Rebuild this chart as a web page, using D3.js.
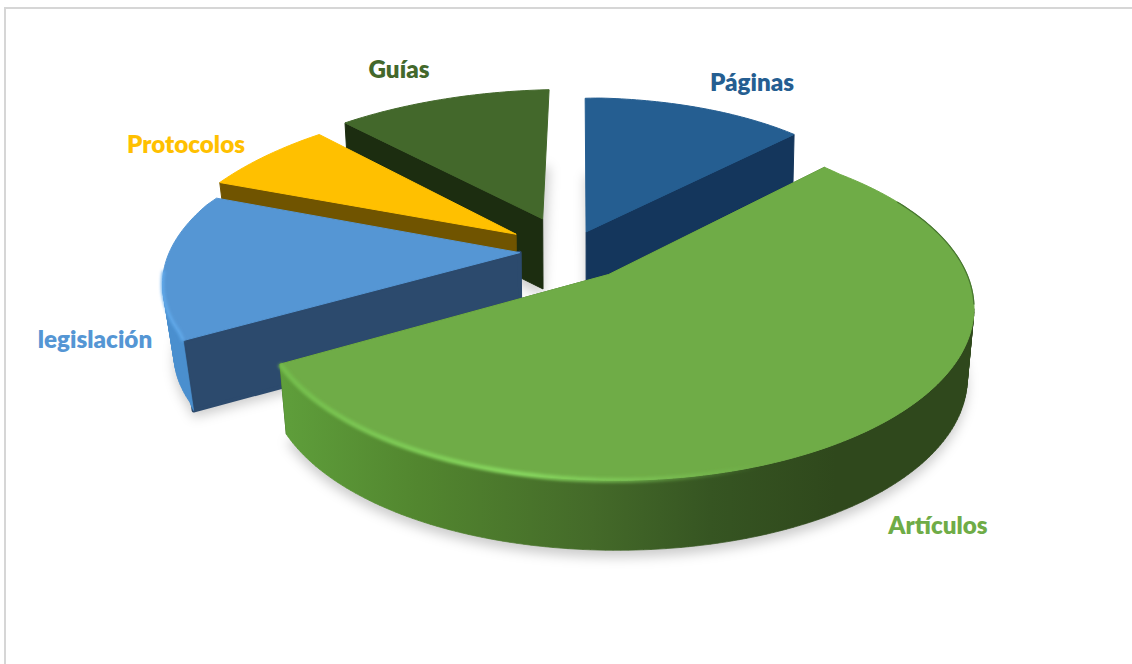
<!DOCTYPE html>
<html>
<head>
<meta charset="utf-8">
<script src="https://cdn.jsdelivr.net/npm/d3@7"></script>
<style>
  html, body { margin: 0; background: #fff; }
  svg { display: block; }
  text { font-family: Lato, "Open Sans", sans-serif; font-weight: 800; font-size: 24.2px; }
</style>
</head>
<body>
<div id="chart"></div>
<script>
// exploded 3D pie
const categories = ['Páginas', 'Artículos', 'legislación', 'Protocolos', 'Guías'];
const values = [12.4, 54.6, 14.2, 7.1, 11.7];
const explosion = [0.133, 0.19, 0.147, 0.198, 0.232];
const startBoost = [0, 0, 0.035, 0, 0];
const topColors = ['#255e91', '#6fac47', '#5596d4', '#ffc000', '#43682b'];
const wallColors = ['#14365c', '#43682b', '#2c4a6d', '#705400', '#1c2d10'];
const rimColors = ['#14365c', 'url(#greenWall)', '#4b8fcf', '#705400', '#1c2d10'];
const cornerRound = [1, 1, 4, 1, 1];
const labelPos = [[752, 83], [938, 526], [95, 340], [186, 145], [399, 70]];

const W = 1132, H = 664;
const rad = Math.PI / 180;

const svg = d3.select('#chart').append('svg').attr('width', W).attr('height', H).attr('viewBox', `0 0 ${W} ${H}`);

// frame (only top and left edges survive in the original)
svg.append('path').attr('d', `M5,${H}V8H${W}`).attr('fill', 'none').attr('stroke', '#d6d6d6').attr('stroke-width', 2);

const defs = svg.append('defs');
defs.append('filter').attr('id', 'soft').attr('filterUnits', 'userSpaceOnUse')
  .attr('x', 0).attr('y', 0).attr('width', W).attr('height', H)
  .append('feGaussianBlur').attr('stdDeviation', 6);
defs.append('filter').attr('id', 'soft2').attr('filterUnits', 'userSpaceOnUse')
  .attr('x', 0).attr('y', 0).attr('width', W).attr('height', H)
  .append('feGaussianBlur').attr('stdDeviation', 1.8);

const wallGrad = defs.append('linearGradient').attr('id', 'greenWall').attr('gradientUnits', 'userSpaceOnUse')
  .attr('x1', 279).attr('x2', 975).attr('y1', 0).attr('y2', 0);
[[0, '#5f9f3b'], [0.2, '#52862f'], [0.45, '#446a29'], [0.62, '#365522'], [0.8, '#2f481c'], [1, '#2f481c']]
  .forEach(s => wallGrad.append('stop').attr('offset', s[0]).attr('stop-color', s[1]));
const lightGrad = defs.append('linearGradient').attr('id', 'greenLight').attr('gradientUnits', 'userSpaceOnUse')
  .attr('x1', 279).attr('x2', 760).attr('y1', 0).attr('y2', 0);
[[0, '#74bd4c', 1], [0.5, '#86d65e', 1], [1, '#86d65e', 0]]
  .forEach(s => lightGrad.append('stop').attr('offset', s[0]).attr('stop-color', s[1]).attr('stop-opacity', s[2]));

// the disc as seen by the camera: an ellipse, with the true centre pushed back from its middle
const ell = {x: 622, y: 307, rx: 356, ry: 171};
const q = [(613 - ell.x) / ell.rx, (ell.y - 273) / ell.ry];
const qq = q[0] * q[0] + q[1] * q[1];
const hub = [-0.13, 0.14];
const depth = 70, converge = 5.4e-5;

function project(w) {
  const dot = q[0] * w[0] + q[1] * w[1];
  const den = 1 + dot;
  const s = Math.sqrt(1 - qq);
  const par = [q[0] * dot / qq, q[1] * dot / qq];
  const u = [0, 1].map(i => (q[i] + par[i] + s * (w[i] - par[i])) / den);
  return [ell.x + ell.rx * u[0], ell.y - ell.ry * u[1]];
}
// underside: straight down, pulled in a bit toward the middle
function drop(p) {
  const dx = p[0] - ell.x;
  return [p[0] - dx * Math.abs(dx) * converge, p[1] + depth];
}
// far side of the disc reads a little larger than the plain projection gives
function rimRadius(a) {
  return 1 + 0.09 * Math.max(0, Math.min(1, 1.5 * Math.cos(a - 325 * rad) - 0.2));
}

const pie = d3.pie().sort(null).startAngle(-1.2 * rad).endAngle(358.8 * rad);
const line = d3.line();

const slices = pie(values).map((d, i) => {
  const mid = (d.startAngle + d.endAngle) / 2;
  const span = d.endAngle - d.startAngle;
  const apexW = [hub[0] + explosion[i] * Math.sin(mid), hub[1] + explosion[i] * Math.cos(mid)];
  const rimAt = a => {
    const r = rimRadius(a) + startBoost[i] * (1 - (a - d.startAngle) / span);
    return project([apexW[0] + r * Math.sin(a), apexW[1] + r * Math.cos(a)]);
  };
  const n = Math.ceil(span / rad);
  const rim = d3.range(n + 1).map(k => rimAt(d.startAngle + span * k / n));
  return {i, apex: project(apexW), rim, rimAt, start: d.startAngle, end: d.endAngle};
});

// soft shadow on the floor
const shadow = svg.append('g').attr('filter', 'url(#soft)').attr('fill', '#000').attr('fill-opacity', 0.2);
slices.forEach(s => {
  const pts = [s.apex].concat(s.rim).map(drop).map(p => [p[0], p[1] + 7]);
  shadow.append('path').attr('d', line(pts) + 'Z');
});

// a cut face shows only if the top face lies above its edge, and not when seen edge-on
function cutVisible(apex, c, other) {
  const e = [c[0] - apex[0], c[1] - apex[1]];
  if (Math.abs(e[0]) < 0.1 * Math.abs(e[1])) return false;
  const side = e[0] * (other[1] - apex[1]) - e[1] * (other[0] - apex[0]);
  return side * e[0] < 0;
}

// outer wall: only the part that faces the camera (rim runs clockwise, so moving left is the front).
// all quads in one path with the same winding, so no seams
function rimWall(rim) {
  return d3.pairs(rim).filter(([a, b]) => b[0] < a[0]).map(([a, b]) => {
    const quad = [a, b, drop(b), drop(a)];
    if (d3.polygonArea(quad) < 0) quad.reverse();
    return line(quad) + 'Z';
  }).join('');
}

// painter's order: back slices first, big one last
[4, 0, 3, 2, 1].forEach(idx => {
  const s = slices[idx];
  const g = svg.append('g');
  const first = s.rim[0], last = s.rim[s.rim.length - 1];
  [[first, last], [last, first]].forEach(([c, other]) => {
    if (!cutVisible(s.apex, c, other)) return;
    g.append('path').attr('d', line([s.apex, c, drop(c), drop(s.apex)]) + 'Z')
      .attr('fill', wallColors[idx]).attr('stroke', wallColors[idx]).attr('stroke-width', cornerRound[idx]).attr('stroke-linejoin', 'round');
  });
  const wall = rimWall(s.rim);
  if (wall) {
    g.append('path').attr('d', wall)
      .attr('fill', rimColors[idx]).attr('stroke', rimColors[idx]).attr('stroke-width', 0.7);
  }
  g.append('path').attr('d', line([s.apex].concat(s.rim)) + 'Z')
    .attr('fill', topColors[idx]).attr('stroke', topColors[idx]).attr('stroke-width', 1).attr('stroke-linejoin', 'round');
});

// bevel highlights along the front rims, thin dark edge on the far right
function rimPart(s, a0, a1) {
  return d3.range(41).map(k => s.rimAt(a0 + (a1 - a0) * k / 40));
}
svg.append('path').attr('d', line(rimPart(slices[1], 150 * rad, slices[1].end)))
  .attr('fill', 'none').attr('stroke', 'url(#greenLight)').attr('stroke-width', 5).attr('filter', 'url(#soft2)');
svg.append('path').attr('d', line(rimPart(slices[2], slices[2].start, slices[2].start + 24 * rad)))
  .attr('fill', 'none').attr('stroke', '#62abec').attr('stroke-width', 3).attr('filter', 'url(#soft2)');
svg.append('path').attr('d', line(rimPart(slices[1], 62 * rad, 100 * rad)))
  .attr('fill', 'none').attr('stroke', '#477530').attr('stroke-width', 1.2);

// labels
svg.selectAll('text.lbl').data(categories).enter().append('text')
  .attr('class', 'lbl')
  .attr('x', (d, i) => labelPos[i][0])
  .attr('y', (d, i) => labelPos[i][1])
  .attr('dy', '0.35em')
  .attr('text-anchor', 'middle')
  .attr('fill', (d, i) => topColors[i])
  .text(d => d);
</script>
</body>
</html>
